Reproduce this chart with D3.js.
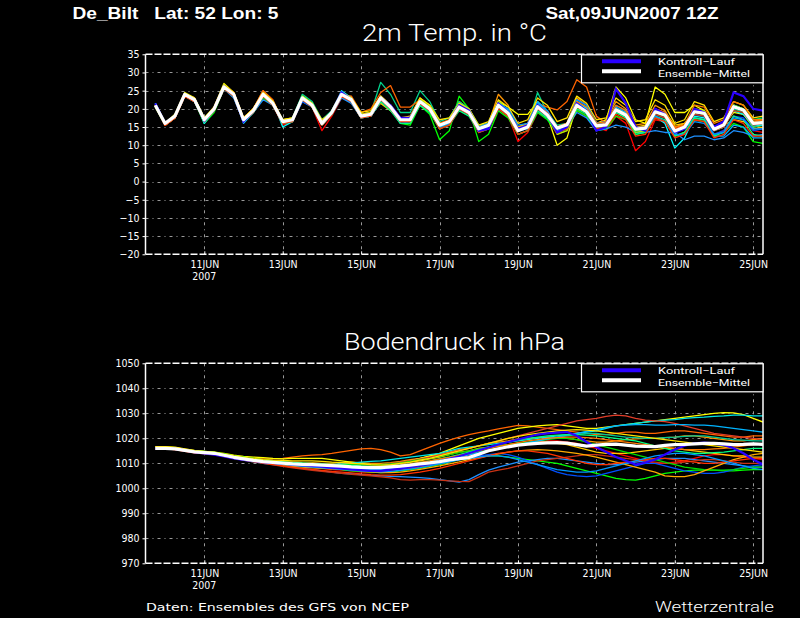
<!DOCTYPE html>
<html>
<head>
<meta charset="utf-8">
<script src="https://cdn.jsdelivr.net/npm/d3@7"></script>
<style>
  html, body { margin: 0; padding: 0; background: #000; }
  svg { display: block; }
</style>
</head>
<body>
<svg id="chart" width="800" height="618"></svg>
<script>
// ---- data (6-hourly, first step 09JUN2007 18Z) ----
const firstStep = Date.UTC(2007, 5, 9, 18);
const stepHours = 6;
const tickDates = ["2007-06-11", "2007-06-13", "2007-06-15", "2007-06-17",
                   "2007-06-19", "2007-06-21", "2007-06-23", "2007-06-25"];
const tempTicks = [35, 30, 25, 20, 15, 10, 5, 0, -5, -10, -15, -20];
const presTicks = [1050, 1040, 1030, 1020, 1010, 1000, 990, 980, 970];

// 2m temperature, ensemble mean and control run
const tempMean = [21, 16, 18, 24, 22.5, 17, 20, 26, 24, 17, 19.5, 24, 21.5, 16.5, 17, 23,
  21, 16, 19, 24, 22.5, 18, 18.5, 23, 20.5, 17, 17, 22, 20, 15.5, 16.5, 20.5,
  19, 14.5, 15.5, 21, 18.8, 14, 15, 20.6, 18.3, 14.7, 15.6, 21, 19.2, 15.3, 15.6, 19.7,
  18.3, 14.4, 14.7, 19.2, 18.3, 13.9, 15, 19.2, 18.8, 14.4, 15.6, 20.6, 19.7, 16, 16.2];
const tempControl = [21.5, 16, 18, 24, 22.5, 16.8, 20, 26, 24, 16.5, 19.5, 24, 21.5, 16.5, 17, 23,
  21, 16, 19, 24.5, 22.5, 18, 18.5, 23, 21, 17.5, 17.5, 22, 20, 15.5, 16.5, 21,
  19.5, 14, 14.5, 21.5, 19, 14.5, 15.5, 21, 18.5, 13.5, 15, 21.5, 19.5, 14, 15, 25.5,
  21.5, 15, 14, 20, 18.5, 13.5, 14.5, 20, 19, 15, 16.5, 24.5, 23.5, 20, 19.5];
// 2m temperature, perturbed members
const tempMembers = [
  [21, 15.5, 17.5, 24, 23, 16.5, 19.5, 25.5, 24, 16.5, 19, 23, 21, 15.5, 16.5, 22.5,
   20.5, 14, 18, 23, 22, 17.5, 18, 22, 20, 16.5, 16.5, 21, 19.5, 14.5, 16, 20,
   18.5, 13.5, 15, 20, 18, 11, 13.5, 19, 17.5, 13, 14, 19.5, 18, 15, 14, 18,
   16, 8.5, 11, 17, 16.5, 12.5, 13.5, 17.5, 17, 13, 14, 18, 17, 14, 13.5],
  [21, 15.5, 17.5, 23.5, 22.5, 17, 20, 26.5, 24.5, 17.5, 20, 25, 22, 16.5, 17, 22.5,
   21.5, 16.5, 19.5, 24.5, 23, 18.5, 19, 23.5, 21, 17.5, 17.5, 21.5, 20, 16, 17, 22,
   20, 15, 16, 24, 21, 15, 16, 22, 19, 15, 16, 23, 21, 16, 17, 22,
   20, 15.5, 16, 21, 19.5, 15, 16, 20, 19.5, 15, 16, 21, 20, 16.5, 17],
  [21, 16, 18.5, 24.5, 23, 17.5, 20.5, 27, 24.5, 17.5, 20, 24.5, 22, 17, 17.5, 23.5,
   21.5, 16.5, 19, 24, 23, 18.5, 19, 23.5, 21, 17, 17.5, 23, 21, 16, 16.5, 21.5,
   20, 15, 16, 22, 20.5, 18.5, 18.5, 22, 18, 10, 12, 21, 20, 16, 17, 26,
   23, 17, 16, 26, 24, 19, 19, 21, 19.5, 15, 15.5, 19, 18.5, 15, 15.5],
  [21, 16, 18, 23.5, 22, 16, 19, 25.5, 23.5, 16.5, 19, 23, 21, 16, 16.5, 22.5,
   20.5, 15.5, 18.5, 23.5, 22, 17.5, 18, 22.5, 20, 16, 15.5, 21, 18.5, 11.5, 14, 23.5,
   20, 11, 13, 19.5, 17.5, 13, 14, 19, 17, 13.5, 14.5, 19.5, 18, 14, 14.5, 18,
   17, 13, 13.5, 17.5, 16.5, 12.5, 13.5, 17, 16.5, 13, 13.5, 16, 15, 11, 10.5],
  [20.5, 15.5, 17.5, 23.5, 22, 16.5, 19.5, 25.5, 23.5, 16.5, 19, 23.5, 21.5, 16.5, 17.5, 24,
   22, 17, 19.5, 24.5, 23, 18.5, 19, 27.3, 24, 19, 19, 25, 22, 16.5, 17.5, 22,
   20, 15.5, 16, 22, 19.5, 14.5, 15.5, 24.5, 19, 15.5, 16, 22, 20, 16, 16.5, 20,
   18.5, 14.5, 15, 19.5, 18.5, 13.5, 14.5, 19, 18.5, 14, 15, 20, 19, 15, 15.5],
  [21, 16, 18, 24, 22.5, 17, 20.5, 26.5, 24.5, 17.5, 20, 25, 22.5, 16.5, 17, 23,
   21, 16, 19, 24, 23.5, 19, 20, 24.5, 26.4, 20.5, 20.5, 22.5, 20.5, 16, 17, 21,
   19.5, 15, 16, 21.5, 19.5, 15, 16, 21.5, 20.5, 19.7, 22, 28, 26, 18, 16, 19.5,
   18.5, 14, 15, 19, 18, 14, 15, 19.5, 19, 14.5, 16, 21, 20, 16.5, 17],
  [21.5, 16, 18, 24, 22.5, 16, 19.5, 26, 24, 16, 19, 24, 22, 15, 16.5, 23,
   21.5, 16.5, 19, 25, 23, 18, 18.5, 22.5, 20.5, 17, 17, 22.5, 20.5, 15.5, 16.5, 20.5,
   19, 14.5, 15.5, 21.5, 19, 14, 15, 21, 19, 15, 16, 22, 20, 15.5, 16, 20,
   19, 14, 14, 18, 16, 9.2, 12, 18, 17.5, 14, 15, 19.5, 18.5, 15.5, 15.5],
  [21.5, 16, 17.5, 23.5, 22, 16.5, 19.5, 25.5, 23, 16.5, 19, 22.5, 21, 16, 17, 22,
   20.5, 16, 18.5, 23, 21.5, 17.5, 18, 22, 20, 16.5, 16.5, 21, 19.5, 15, 16, 20,
   18.5, 14, 15, 20, 18.5, 14, 14.5, 19.5, 17.5, 14, 15, 19, 17.5, 14, 14.5, 15.5,
   15, 13.5, 13.5, 14, 13.5, 13.5, 11.5, 12.5, 12.5, 11.5, 12, 14, 13.5, 12.5, 13],
  [20.5, 15.5, 17.5, 23.5, 22.5, 17, 20, 26, 24, 17, 19.5, 24, 21.5, 16.5, 17, 23,
   21, 16.5, 19, 23.5, 22.5, 18.5, 19, 21.5, 19.5, 17, 17, 22, 20, 15.5, 16.5, 20,
   18.5, 15, 16, 20.5, 18.5, 15, 16, 20, 18.5, 15, 16, 20.5, 19, 16, 16.5, 20,
   19, 15, 15.5, 19.5, 19, 15.5, 16, 19, 18.5, 15, 15.5, 17, 16.5, 14.5, 15],
  [21, 16, 18, 24, 22.5, 16.5, 19.5, 26, 24, 16.5, 19, 23.5, 21.5, 16, 16.5, 22,
   20.5, 15.5, 18.5, 24, 22, 17.5, 18, 22, 20, 16, 16.5, 21.5, 19.5, 15, 16, 20,
   18.5, 14, 15, 20, 18.5, 14, 15, 20, 18, 14.5, 15, 22.5, 21, 16, 16.5, 19,
   18, 14, 14, 18.5, 17.5, 14, 15, 18.5, 18, 13, 14, 18, 17.5, 14, 14.5],
  [21, 15.5, 17.5, 23.5, 22, 16.5, 19.5, 25.5, 23.5, 16.5, 19.5, 23.5, 21, 16, 16.5, 22.5,
   20.5, 15.5, 18.5, 23.5, 22, 17.5, 18.5, 22.5, 20, 16.5, 16.5, 21.5, 19.5, 15, 16, 20.5,
   18.5, 14, 15.5, 21, 19, 14, 15, 20.5, 18, 14.5, 15.5, 20.5, 19, 15.5, 15.5, 19,
   17.5, 14, 14.5, 18.5, 17.5, 13.5, 14.5, 18.5, 18, 14, 15, 19.5, 19, 15.5, 16],
  [21, 16, 18, 24, 22.5, 17, 20, 26, 24, 17, 19.5, 24.5, 22, 16.5, 17, 23.5,
   21.5, 16.5, 19, 24, 22.5, 18, 18.5, 23, 20.5, 17, 17, 22.5, 20.5, 15.5, 16.5, 21.5,
   19.5, 14.5, 16, 22, 19.5, 14.5, 15.5, 21.5, 19, 13, 14, 20, 19, 14.5, 15, 19.5,
   18, 13.5, 14, 19, 18, 14, 15, 20, 19.5, 15, 16, 21, 20, 16, 16.5],
  [21, 16, 18, 24, 22, 16.5, 19.5, 26, 23.5, 16.5, 19, 23.5, 21.5, 16.5, 17, 23,
   21, 16, 18.5, 24, 22.5, 18, 18.5, 22.5, 20, 16.5, 17, 22, 20, 15.5, 16.5, 21,
   19.5, 14.5, 15.5, 21, 19, 14, 15, 21, 18.5, 14.5, 15.5, 21, 19, 15, 15.5, 20,
   18.5, 14, 14.5, 19.5, 18.5, 13.5, 14.5, 19.5, 19, 14.5, 15.5, 21, 20, 17, 17.5],
  [21, 15.5, 18, 24, 22.5, 17, 20, 26, 24, 17, 19.5, 24, 21.5, 16.5, 17, 23,
   21, 16, 19, 24, 22.5, 18, 18.5, 23, 21, 17, 17, 22, 20, 15.5, 16.5, 20.5,
   19, 14.5, 15.5, 21, 18.5, 14, 15, 20.5, 18.5, 15, 16, 21.5, 19.5, 15.5, 16, 20,
   18.5, 14.5, 15, 20, 19, 14.5, 15.5, 19.5, 19, 15, 16, 20.5, 19.5, 16, 16],
  [21.5, 16, 18, 24, 22.5, 16.5, 20, 26.5, 24, 17, 19.5, 24, 21.5, 16.5, 17, 23,
   21, 16, 19, 24.5, 22.5, 18, 18.5, 23, 20.5, 17, 17, 22, 20, 15, 16, 20.5,
   19, 14, 15.5, 21.5, 19.5, 14, 15, 22, 19.5, 14.5, 15.5, 22, 20.5, 15.5, 15.5, 20.5,
   19, 15, 15, 19.5, 19, 13.5, 14.5, 17.5, 17, 12.5, 12.5, 15.5, 15, 12, 12],
  [21, 16, 18, 24, 23, 17.5, 20, 26.5, 24.5, 17.5, 20, 24.5, 22, 17, 17.5, 23,
   21.5, 17, 19, 24.5, 23, 19, 19.5, 23.5, 21, 17.5, 18, 23, 21, 17, 17.5, 21.5,
   20, 15.5, 16.5, 22.5, 20.5, 16, 17, 23, 21, 16.5, 17.5, 23.5, 21.5, 17, 17.5, 23,
   21, 16.5, 17, 22.5, 21, 16, 17, 22, 21, 16.5, 17.5, 22, 21, 17.5, 18],
  [21, 16, 18, 24, 22.5, 16.5, 19.5, 25.5, 23.5, 16.5, 19, 23.5, 21, 16, 16.5, 22.5,
   20.5, 15.5, 18.5, 23.5, 22, 17.5, 18, 22, 19.5, 16, 16, 21, 19, 14.5, 15.5, 19.5,
   18, 13.5, 14.5, 20, 18, 13, 14, 19.5, 17.5, 13.5, 14.5, 20, 18.5, 14.5, 15, 19,
   17.5, 13, 13.5, 18, 17, 12.5, 13.5, 17.5, 17, 12.5, 13.5, 18, 17, 13, 12.5],
  [21, 16, 18, 24, 22.5, 17, 20, 26, 24, 17, 19.5, 24, 21.5, 16.5, 17, 22.5,
   21, 16, 19, 23.5, 22, 18, 18.5, 22.5, 20, 16.5, 17, 21.5, 20, 15.5, 16.5, 21,
   19.5, 15, 16, 21.5, 20, 15.5, 16, 21.5, 19.5, 15, 15.5, 22.5, 21, 16, 16.5, 21,
   19.5, 15, 14.5, 18, 16.5, 13, 13, 16.5, 16, 13, 13.5, 17.5, 17, 14.5, 14.5],
  [21, 16, 18, 24, 22.5, 17, 20, 26, 24, 17, 19.5, 24, 21.5, 16.5, 17, 23,
   21, 16, 19, 24, 22.5, 18, 18.5, 23, 20.5, 17, 17, 22, 20, 15.5, 16.5, 20.5,
   19, 14.5, 15.5, 21, 19, 14, 15, 21, 19, 15, 16, 22, 20.5, 16, 16.5, 21,
   19.5, 15, 15, 20, 19, 15, 15.5, 21, 20.5, 16, 17, 22, 21, 17, 17],
  [21, 15.5, 17.5, 23.5, 22, 16.5, 19.5, 25.5, 23.5, 16.5, 19, 23.5, 21, 16, 16.5, 22.5,
   20.5, 15.5, 18.5, 23.5, 22, 17.5, 18, 22.5, 20, 16.5, 16.5, 21.5, 19.5, 14.5, 15.5, 20,
   18.5, 13.5, 14.5, 20, 18, 13, 14, 20, 18, 13.5, 14.5, 20.5, 19, 14.5, 15, 18.5,
   17, 12.5, 13, 17.5, 16.5, 12, 13, 17, 16.5, 12, 13, 17, 16, 12.5, 12.5]
];

// surface pressure, ensemble mean and control run
const presMean = [1016, 1016, 1015.8, 1015.2, 1014.6, 1014.3, 1014, 1013.2, 1012.4, 1011.8, 1011.2, 1010.7, 1010.4, 1010.1, 1009.8, 1009.6,
  1009.5, 1009.3, 1009.1, 1008.9, 1008.6, 1008.4, 1008.3, 1008.3, 1008.6, 1008.9, 1009.3, 1009.8, 1010.2, 1010.7, 1011.4, 1011.9,
  1012.3, 1013.6, 1015, 1015.8, 1016.6, 1017.3, 1017.7, 1018, 1018.2, 1018.3, 1018.1, 1017.5, 1016.9, 1017.3, 1017.6, 1017.7,
  1017.3, 1016.9, 1016.8, 1016.7, 1017.2, 1017.5, 1017.6, 1017.8, 1018, 1018, 1017.8, 1017.5, 1017.6, 1017.8, 1017.6];
const presControl = [1016, 1016, 1015.8, 1015.2, 1014.5, 1014, 1013.5, 1012.8, 1012, 1011.4, 1011, 1010.5, 1010.2, 1010, 1009.6, 1009.3,
  1009, 1008.7, 1008.3, 1008, 1007.6, 1007.3, 1007, 1007, 1007.5, 1008, 1008.6, 1009.3, 1010, 1010.8, 1011.8, 1012.8,
  1014, 1015.2, 1016.3, 1017.5, 1018.5, 1019.5, 1020.5, 1021.5, 1022, 1022.3, 1022.5, 1021, 1018.5, 1016.5, 1014.5, 1012.5,
  1011, 1009.5, 1010.3, 1011.5, 1013.5, 1015.5, 1017, 1018, 1018.3, 1018, 1017.3, 1016, 1014, 1011.5, 1009.5];
// surface pressure, perturbed members
const presMembers = [
  [1016, 1016, 1015.6, 1015, 1014.3, 1014, 1013.8, 1013, 1012.3, 1011.5, 1011, 1010.3, 1010, 1009.5, 1009, 1008.8,
   1008.5, 1008, 1007.5, 1007.3, 1007, 1006.5, 1006.3, 1006.5, 1006.8, 1007.3, 1008, 1008.5, 1009.3, 1010, 1011, 1012,
   1013, 1014, 1015, 1016, 1016.5, 1017.5, 1018, 1018.5, 1019, 1019, 1018.5, 1018, 1017, 1016, 1015, 1014,
   1013, 1012, 1011, 1010, 1010, 1010.5, 1011, 1012, 1013, 1013.5, 1013.5, 1013, 1012.5, 1012, 1011.5],
  [1016.3, 1016.3, 1016, 1015.4, 1015, 1014.6, 1014.3, 1013.5, 1012.8, 1012.3, 1011.8, 1011.3, 1011, 1010.8, 1010.5, 1010.3,
   1010.3, 1010, 1010, 1010.3, 1010.5, 1010.3, 1010, 1010, 1010.3, 1010.8, 1011.5, 1012, 1012.8, 1013.5, 1014.5, 1015.5,
   1016, 1017, 1018, 1018.5, 1019, 1019.8, 1020, 1020.3, 1020.5, 1020.3, 1020, 1019.5, 1019, 1018.5, 1018.5, 1019,
   1019.5, 1019.8, 1020, 1020, 1020.3, 1020.5, 1021, 1021, 1020.5, 1020, 1019.5, 1019, 1019, 1019.5, 1020],
  [1016, 1016, 1015.8, 1015.3, 1014.8, 1014.5, 1014.3, 1013.6, 1013, 1012.5, 1012, 1011.8, 1011.8, 1012, 1012.5, 1013,
   1013.3, 1013.5, 1014, 1014.6, 1015.2, 1015.8, 1016, 1015.5, 1014.5, 1013, 1013.5, 1015, 1016.5, 1018, 1019.3, 1020.5,
   1021.5, 1022.3, 1023, 1023.8, 1024.5, 1025.2, 1025, 1024.5, 1024, 1023.5, 1023, 1022.5, 1022, 1021.5, 1021.5, 1022,
   1022.5, 1022.5, 1022, 1022, 1022.5, 1023, 1023, 1022.5, 1022, 1021.5, 1021, 1020.5, 1020.5, 1021, 1021],
  [1016.7, 1016.7, 1016.5, 1015.8, 1015.2, 1014.8, 1014.5, 1014, 1013.3, 1012.8, 1012.5, 1012.3, 1012, 1011.8, 1012, 1012,
   1012, 1012, 1011.5, 1011, 1010.5, 1010, 1009.5, 1009.5, 1009.8, 1010.3, 1011, 1012, 1013, 1014, 1015.5, 1017,
   1018.5, 1020, 1021, 1022, 1023, 1024, 1024.5, 1025, 1025.3, 1025.5, 1025, 1024.5, 1024, 1024, 1024.5, 1025,
   1025.5, 1026, 1026.5, 1027, 1027.5, 1028, 1028.5, 1029, 1029.5, 1030, 1030.3, 1030.2, 1029.5, 1028, 1026.5],
  [1016, 1016, 1015.8, 1015.4, 1015, 1014.8, 1014.5, 1013.8, 1013, 1012.5, 1012, 1011.5, 1011, 1010.5, 1010, 1009.5,
   1009, 1008.5, 1008, 1007.5, 1007, 1006.8, 1006.5, 1006.3, 1006.5, 1007, 1007.5, 1008, 1008.8, 1009.5, 1010.5, 1011.5,
   1012, 1012.5, 1013, 1013, 1012.5, 1012, 1011.5, 1011, 1010.5, 1010, 1009, 1008, 1007, 1006, 1005, 1004,
   1003.5, 1003.3, 1004, 1005, 1006, 1006.5, 1007, 1007.3, 1007.3, 1007.3, 1007, 1007, 1007.3, 1007.5, 1007.5],
  [1015.8, 1015.8, 1015.6, 1015, 1014.4, 1014.2, 1014, 1013.3, 1012.5, 1012, 1011.4, 1011, 1010.7, 1010.3, 1010, 1009.8,
   1009.6, 1009.5, 1009.5, 1009.8, 1010, 1010.5, 1010.8, 1011, 1011.5, 1012, 1012.5, 1013, 1013.5, 1014, 1015, 1016,
   1016.5, 1017, 1017.5, 1018, 1018.5, 1019, 1019.5, 1020, 1020.5, 1021, 1021.5, 1022, 1022.5, 1023, 1024, 1025,
   1025.5, 1026, 1026.5, 1027, 1027.3, 1027.5, 1028, 1028.3, 1028.5, 1028.8, 1029, 1029.3, 1029.3, 1029, 1029],
  [1016, 1016, 1015.6, 1015, 1014.3, 1014, 1013.6, 1012.8, 1012, 1011.3, 1010.6, 1010, 1009.5, 1009, 1008.5, 1008,
   1007.5, 1007, 1006.5, 1006, 1005.8, 1005.5, 1005.2, 1005, 1004.8, 1004.7, 1004.5, 1004.3, 1004, 1003.5, 1003, 1002.5,
   1003.5, 1005.5, 1007.3, 1008.5, 1009.5, 1010.5, 1011, 1011.5, 1012, 1012, 1011.5, 1011, 1010.5, 1010, 1009.5, 1009.5,
   1010, 1010.5, 1011, 1011.5, 1012, 1012, 1012, 1011.5, 1011, 1010.5, 1010, 1009.5, 1009, 1008.5, 1008.5],
  [1016, 1016, 1015.8, 1015.2, 1014.6, 1014.4, 1014.2, 1013.5, 1012.7, 1012, 1011.4, 1011, 1010.6, 1010.2, 1009.8, 1009.5,
   1009.2, 1009, 1008.7, 1008.3, 1008, 1007.7, 1007.5, 1007.3, 1007.5, 1007.8, 1008.3, 1009, 1009.5, 1010, 1010.8, 1011.5,
   1012.3, 1013, 1013.5, 1014, 1013.5, 1012.5, 1011, 1009.5, 1008, 1006.5, 1005.5, 1005, 1004.7, 1005, 1006, 1007,
   1008, 1009, 1010, 1010, 1009, 1008, 1007, 1006.5, 1006, 1006, 1006.5, 1007.5, 1008.5, 1009, 1009.5],
  [1016.5, 1016.5, 1016.2, 1015.6, 1015, 1014.6, 1014.2, 1013.4, 1012.6, 1012, 1011.4, 1010.8, 1010.4, 1010, 1009.5, 1009.2,
   1009, 1008.8, 1008.5, 1008.5, 1008.3, 1008.3, 1008.5, 1008.8, 1009.3, 1010, 1010.5, 1011, 1011.8, 1012.5, 1013.5, 1014.5,
   1015, 1016, 1016.5, 1017, 1017.5, 1018, 1018.3, 1018.5, 1018.5, 1018, 1017.5, 1016.5, 1015.5, 1014.5, 1014, 1014,
   1014, 1014.5, 1015, 1015.5, 1016, 1016, 1015.5, 1015, 1014.5, 1014, 1013.5, 1013, 1013, 1012.5, 1012.5],
  [1015.8, 1015.8, 1015.5, 1014.8, 1014.2, 1013.8, 1013.5, 1012.8, 1012, 1011.3, 1010.6, 1010, 1009.4, 1008.8, 1008.2, 1007.7,
   1007.2, 1006.8, 1006.4, 1006, 1005.6, 1005.3, 1005, 1004.6, 1004.2, 1003.5, 1003.3, 1003.5, 1003.5, 1003.3, 1003, 1002.8,
   1002.7, 1004.5, 1006.5, 1007.3, 1008, 1009, 1010, 1011, 1011.5, 1012, 1012.5, 1013, 1013.5, 1013.5, 1013, 1012.5,
   1012, 1011.5, 1011, 1010.5, 1010, 1010, 1010.5, 1011, 1011.5, 1011.5, 1011, 1010.5, 1010, 1010, 1010],
  [1016, 1016, 1015.8, 1015.3, 1014.7, 1014.5, 1014.2, 1013.5, 1012.8, 1012.3, 1011.8, 1011.3, 1011, 1010.7, 1010.5, 1010.3,
   1010, 1009.8, 1009.5, 1009.3, 1009.2, 1009.2, 1009.3, 1009.5, 1010, 1010.5, 1011, 1011.8, 1012.5, 1013.3, 1014.2, 1015.2,
   1016, 1017, 1018, 1019, 1020, 1021, 1022, 1023, 1024, 1025, 1026, 1027, 1027.5, 1028, 1028.8, 1029.3,
   1029, 1028, 1027.3, 1027, 1026.7, 1026, 1025, 1024, 1023, 1022, 1021.5, 1021, 1020.5, 1020, 1019.5],
  [1016.2, 1016.2, 1016, 1015.5, 1015, 1014.7, 1014.3, 1013.6, 1012.8, 1012.3, 1011.8, 1011.4, 1011, 1010.6, 1010.3, 1010,
   1009.8, 1009.6, 1009.5, 1009.5, 1009.6, 1009.5, 1009.4, 1009.5, 1009.8, 1010.2, 1010.8, 1011.5, 1012, 1012.8, 1013.5, 1014.3,
   1015, 1015.8, 1016.5, 1017, 1017.5, 1018, 1018.5, 1019, 1019.5, 1020, 1020, 1019.5, 1018.5, 1017.5, 1016.5, 1015.5,
   1014.5, 1013.5, 1012.5, 1011.5, 1010.5, 1009.5, 1008.5, 1008, 1007.5, 1007.3, 1007.3, 1007.5, 1008, 1008.5, 1008.5],
  [1016, 1016, 1015.7, 1015.1, 1014.5, 1014.2, 1013.9, 1013.1, 1012.3, 1011.7, 1011.1, 1010.6, 1010.2, 1009.8, 1009.4, 1009.1,
   1008.8, 1008.5, 1008.2, 1008, 1007.8, 1007.6, 1007.5, 1007.6, 1008, 1008.5, 1009, 1009.8, 1010.5, 1011.3, 1012.2, 1013,
   1013.8, 1014.6, 1015.3, 1016, 1016.8, 1017.5, 1018.3, 1019, 1019.8, 1020.5, 1021, 1021.5, 1022, 1022, 1021.5, 1021,
   1020.5, 1020.3, 1020, 1020, 1020.3, 1020.5, 1020.8, 1021, 1021, 1020.5, 1020, 1019.5, 1019.3, 1019, 1019],
  [1016, 1016, 1015.8, 1015.2, 1014.6, 1014.3, 1014, 1013.2, 1012.4, 1011.6, 1011, 1010.4, 1009.8, 1009.3, 1008.8, 1008.5,
   1008.2, 1008, 1007.8, 1007.8, 1007.5, 1007, 1006.6, 1006.3, 1006.3, 1006.5, 1007, 1007.6, 1008.3, 1009, 1009.8, 1010.6,
   1011.5, 1012.3, 1013, 1013.8, 1014.5, 1015, 1015.3, 1015.5, 1015.3, 1015, 1014.5, 1014, 1013.3, 1012.5, 1011.5, 1010.5,
   1009.5, 1008.5, 1007.5, 1006.5, 1005, 1004.7, 1004.7, 1005.5, 1007, 1008.5, 1010, 1011.5, 1012.5, 1013.5, 1014],
  [1015.8, 1015.8, 1015.6, 1015.1, 1014.6, 1014.2, 1013.9, 1013.2, 1012.5, 1011.9, 1011.3, 1010.8, 1010.4, 1010, 1009.6, 1009.3,
   1009, 1008.8, 1008.5, 1008.3, 1008, 1007.8, 1007.6, 1007.5, 1007.8, 1008.3, 1008.8, 1009.5, 1010.2, 1011, 1011.8, 1012.6,
   1013.4, 1014.2, 1015, 1015.8, 1016.6, 1017.4, 1018.2, 1019, 1019.8, 1020.5, 1021.3, 1022, 1022.8, 1023.5, 1024.3, 1025,
   1025.3, 1025.5, 1025.5, 1025.3, 1025.3, 1025.5, 1025.5, 1025.3, 1025.3, 1025, 1024.5, 1024, 1023.5, 1023, 1022.5],
  [1015.8, 1015.8, 1015.5, 1014.9, 1014.3, 1014, 1013.6, 1012.8, 1012, 1011.4, 1010.8, 1010.2, 1009.6, 1009, 1008.5, 1008,
   1007.6, 1007.2, 1006.8, 1006.5, 1006.2, 1005.8, 1005.5, 1005.3, 1005.3, 1005.5, 1006, 1006.5, 1007.2, 1008, 1009, 1010,
   1011, 1012, 1013, 1014, 1014.5, 1015, 1015, 1014.5, 1014, 1013, 1012, 1011, 1010, 1009.5, 1009.5, 1010,
   1010.5, 1011, 1011.5, 1012, 1012, 1011.5, 1011, 1010.5, 1010, 1010, 1010.5, 1011, 1011.5, 1012, 1012],
  [1016.2, 1016.2, 1016, 1015.4, 1014.8, 1014.5, 1014.2, 1013.4, 1012.6, 1012.1, 1011.6, 1011.2, 1010.9, 1010.6, 1010.4, 1010.2,
   1010, 1009.8, 1009.6, 1009.4, 1009.2, 1009, 1008.8, 1008.8, 1009, 1009.4, 1009.8, 1010.4, 1011, 1011.8, 1012.6, 1013.5,
   1014.5, 1015.5, 1016.5, 1017.5, 1018.5, 1019.3, 1020, 1020.5, 1021, 1021.3, 1021.5, 1021.5, 1021.3, 1021, 1020.5, 1020,
   1019.5, 1019, 1018, 1017, 1016, 1015, 1014.5, 1014, 1014, 1014.3, 1014.5, 1015, 1015.5, 1016, 1016],
  [1016.5, 1016.5, 1016.3, 1015.7, 1015.1, 1014.8, 1014.5, 1013.7, 1013, 1012.4, 1011.9, 1011.5, 1011.3, 1011.2, 1011, 1011,
   1011, 1010.8, 1010.5, 1010.3, 1010, 1009.8, 1009.5, 1009.3, 1009.5, 1010, 1010.5, 1011.3, 1012, 1013, 1014, 1015,
   1016, 1017, 1018, 1019, 1020, 1020.8, 1021.5, 1022, 1022.5, 1023, 1023.3, 1023.5, 1023.3, 1023, 1022.5, 1022,
   1021.5, 1021, 1020.5, 1020, 1019.5, 1019, 1018.5, 1018, 1017.5, 1017, 1016.5, 1016, 1015.5, 1015, 1014.5],
  [1016, 1016, 1015.7, 1015.1, 1014.5, 1014.1, 1013.8, 1013, 1012.2, 1011.6, 1011, 1010.5, 1010, 1009.6, 1009.2, 1008.8,
   1008.5, 1008.2, 1007.9, 1007.6, 1007.3, 1007, 1006.8, 1006.6, 1006.8, 1007.2, 1007.7, 1008.3, 1009, 1009.8, 1010.6, 1011.4,
   1012, 1012.5, 1013, 1013, 1012.5, 1011.5, 1010.5, 1009.5, 1008.5, 1007.5, 1007, 1006.5, 1006.5, 1007, 1008, 1009,
   1010, 1011, 1012, 1013, 1013.5, 1014, 1014, 1013.5, 1013, 1012, 1011, 1010, 1009, 1008, 1007.5],
  [1016, 1016, 1015.8, 1015.2, 1014.6, 1014.3, 1014, 1013.3, 1012.5, 1011.9, 1011.3, 1010.9, 1010.5, 1010.2, 1009.9, 1009.7,
   1009.6, 1009.4, 1009.2, 1009, 1008.8, 1008.7, 1008.6, 1008.6, 1008.9, 1009.3, 1009.8, 1010.4, 1011, 1011.7, 1012.4, 1013.2,
   1014, 1015, 1016, 1016.8, 1017.5, 1018.3, 1019, 1019.5, 1020, 1020.3, 1020.5, 1020.5, 1020.3, 1020, 1019.5, 1019,
   1018.5, 1018, 1017.5, 1017, 1016.5, 1016, 1015.5, 1015.5, 1015.5, 1015.8, 1016, 1016.5, 1017, 1017.5, 1018]
];

// ---- styling ----
const tempColors = ["#ff0000", "#ff9600", "#ffff00", "#00ff00", "#00d28c", "#ff6400", "#00ffff", "#1e90ff",
                    "#ffc800", "#0050ff", "#d23c14", "#a0ff00", "#00e650", "#ff4600", "#00b4ff",
                    "#ffe100", "#00ff80", "#0096ff", "#ff7800", "#ff3200"];
const presColors = ["#ff0000", "#ff9600", "#ff6400", "#ffff00", "#00ff00", "#00e6e6", "#1e90ff", "#0050ff",
                    "#ffc800", "#c83214", "#e03c28", "#00dc00", "#00c896", "#ffaa00", "#00b4ff",
                    "#ff3200", "#00ff80", "#ffe100", "#0096ff", "#ff7800"];
const controlColor = "#2a00ff";
const tickFont = "'DejaVu Sans Condensed', 'DejaVu Sans', sans-serif";
const thinFont = "Roboto, 'DejaVu Sans', sans-serif";

const svg = d3.select("#chart");
svg.append("rect").attr("width", 800).attr("height", 618).attr("fill", "#000");

const plotLeft = 145.5, plotRight = 763;
const times = tempMean.map((_, i) => new Date(firstStep + i * stepHours * 3600e3));
const x = d3.scaleUtc()
  .domain([Date.UTC(2007, 5, 9, 12), Date.UTC(2007, 5, 25, 6)])
  .range([plotLeft, plotRight]);
const ticks = tickDates.map(d => new Date(d + "T00:00:00Z"));
const fmtDay = d => d3.utcFormat("%d%b")(d).toUpperCase();

function drawPanel(cfg) {
  const y = d3.scaleLinear().domain(cfg.domain).range([cfg.bottom, cfg.top]);
  const g = svg.append("g");
  const clipId = "clip-" + cfg.id;
  svg.append("clipPath").attr("id", clipId)
    .append("rect")
    .attr("x", plotLeft).attr("y", cfg.top)
    .attr("width", plotRight - plotLeft).attr("height", cfg.bottom - cfg.top);

  // grid
  g.selectAll(".hgrid")
    .data(cfg.ticks.filter(t => t !== cfg.domain[0] && t !== cfg.domain[1]))
    .join("line")
    .attr("x1", plotLeft).attr("x2", plotRight)
    .attr("y1", d => Math.round(y(d)) + 0.5).attr("y2", d => Math.round(y(d)) + 0.5)
    .attr("stroke", "#9a9a9a").attr("stroke-dasharray", "3,4,1,4");
  g.selectAll(".vgrid")
    .data(ticks)
    .join("line")
    .attr("x1", d => Math.round(x(d)) + 0.5).attr("x2", d => Math.round(x(d)) + 0.5)
    .attr("y1", cfg.top).attr("y2", cfg.bottom)
    .attr("stroke", "#9a9a9a").attr("stroke-dasharray", "3,4,1,4");

  // ensemble members, control, mean
  const line = d3.line().x((d, i) => x(times[i])).y(d => y(d));
  const lines = g.append("g").attr("clip-path", `url(#${clipId})`);
  lines.selectAll(".member")
    .data(cfg.members)
    .join("path")
    .attr("d", line)
    .attr("fill", "none")
    .attr("stroke", (d, i) => cfg.colors[i % cfg.colors.length])
    .attr("stroke-width", 1.3)
    .attr("stroke-linejoin", "round");
  lines.append("path").attr("d", line(cfg.control))
    .attr("fill", "none").attr("stroke", controlColor).attr("stroke-width", 2.2);
  lines.append("path").attr("d", line(cfg.mean))
    .attr("fill", "none").attr("stroke", "#fff").attr("stroke-width", 3.2)
    .attr("stroke-linejoin", "round");

  // frame: solid left/right, dashed top/bottom
  g.append("line").attr("x1", plotLeft).attr("x2", plotLeft).attr("y1", cfg.top).attr("y2", cfg.bottom)
    .attr("stroke", "#fff").attr("stroke-width", 1.5);
  g.append("line").attr("x1", plotRight).attr("x2", plotRight).attr("y1", cfg.top).attr("y2", cfg.bottom)
    .attr("stroke", "#fff").attr("stroke-width", 1.5);
  [cfg.top, cfg.bottom].forEach(yy => {
    g.append("line").attr("x1", plotLeft).attr("x2", plotRight).attr("y1", yy).attr("y2", yy)
      .attr("stroke", "#fff").attr("stroke-width", 1.5).attr("stroke-dasharray", "7,2");
  });

  // y axis
  const ya = g.append("g")
    .attr("transform", `translate(${plotLeft},0)`)
    .call(d3.axisLeft(y).tickValues(cfg.ticks).tickFormat(d3.format("d")).tickSize(3).tickPadding(3));
  ya.select(".domain").remove();
  ya.selectAll("line").attr("stroke", "#fff");
  ya.selectAll("text").attr("fill", "#fff").attr("font-family", tickFont).attr("font-size", 10.5);

  // x axis
  const xa = g.append("g")
    .attr("transform", `translate(0,${cfg.bottom})`)
    .call(d3.axisBottom(x).tickValues(ticks).tickFormat(fmtDay).tickSize(-3).tickPadding(6));
  xa.select(".domain").remove();
  xa.selectAll("line").attr("stroke", "#fff");
  xa.selectAll("text").attr("fill", "#fff").attr("font-family", tickFont).attr("font-size", 10.5);
  g.append("text").attr("x", x(ticks[0])).attr("y", cfg.bottom + 26)
    .attr("text-anchor", "middle").attr("fill", "#fff")
    .attr("font-family", tickFont).attr("font-size", 10.5).text("2007");

  // title
  g.append("text").attr("x", cfg.titleX).attr("y", cfg.top - 13)
    .attr("fill", "#fff").attr("font-family", thinFont).attr("font-weight", 300)
    .attr("font-size", 24).attr("textLength", cfg.titleW).attr("lengthAdjust", "spacingAndGlyphs")
    .text(cfg.title);

  // legend
  const lg = g.append("g").attr("transform", `translate(581,${cfg.top})`);
  lg.append("rect").attr("x", 0.5).attr("y", 0.5).attr("width", plotRight - 581.5).attr("height", 28)
    .attr("fill", "#000").attr("stroke", "#fff").attr("stroke-width", 1.2);
  lg.append("line").attr("x1", 21).attr("x2", 60).attr("y1", 7).attr("y2", 7)
    .attr("stroke", controlColor).attr("stroke-width", 4);
  lg.append("line").attr("x1", 21).attr("x2", 60).attr("y1", 17).attr("y2", 17)
    .attr("stroke", "#fff").attr("stroke-width", 4);
  lg.append("text").attr("x", 77).attr("y", 10.8).attr("fill", "#fff")
    .attr("font-family", thinFont).attr("font-size", 9.5)
    .attr("textLength", 77).attr("lengthAdjust", "spacingAndGlyphs").text("Kontroll\u2212Lauf");
  lg.append("text").attr("x", 77).attr("y", 23).attr("fill", "#fff")
    .attr("font-family", thinFont).attr("font-size", 9.5)
    .attr("textLength", 92).attr("lengthAdjust", "spacingAndGlyphs").text("Ensemble\u2212Mittel");
}

drawPanel({ id: "temp", top: 54.3, bottom: 254.3, domain: [-20, 35], ticks: tempTicks,
  members: tempMembers, colors: tempColors, control: tempControl, mean: tempMean,
  title: "2m Temp. in \u00b0C", titleX: 362, titleW: 185 });
drawPanel({ id: "pres", top: 363.3, bottom: 563.3, domain: [970, 1050], ticks: presTicks,
  members: presMembers, colors: presColors, control: presControl, mean: presMean,
  title: "Bodendruck in hPa", titleX: 344, titleW: 221 });

// header and footer
svg.append("text").attr("x", 72.5).attr("y", 18.5).attr("fill", "#fff")
  .attr("font-family", "'Liberation Sans', Arial, sans-serif").attr("font-weight", "bold").attr("font-size", 16)
  .style("white-space", "pre")
  .attr("textLength", 206).attr("lengthAdjust", "spacingAndGlyphs").text("De_Bilt   Lat: 52 Lon: 5");
svg.append("text").attr("x", 545.5).attr("y", 18.5).attr("fill", "#fff")
  .attr("font-family", "'Liberation Sans', Arial, sans-serif").attr("font-weight", "bold").attr("font-size", 16)
  .attr("textLength", 173).attr("lengthAdjust", "spacingAndGlyphs").text("Sat,09JUN2007 12Z");
svg.append("text").attr("x", 146).attr("y", 611).attr("fill", "#fff")
  .attr("font-family", tickFont).attr("font-size", 11)
  .attr("textLength", 263).attr("lengthAdjust", "spacingAndGlyphs").text("Daten: Ensembles des GFS von NCEP");
svg.append("text").attr("x", 655).attr("y", 612).attr("fill", "#fff")
  .attr("font-family", thinFont).attr("font-weight", 300).attr("font-size", 14)
  .attr("textLength", 119).attr("lengthAdjust", "spacingAndGlyphs").text("Wetterzentrale");
</script>
</body>
</html>
